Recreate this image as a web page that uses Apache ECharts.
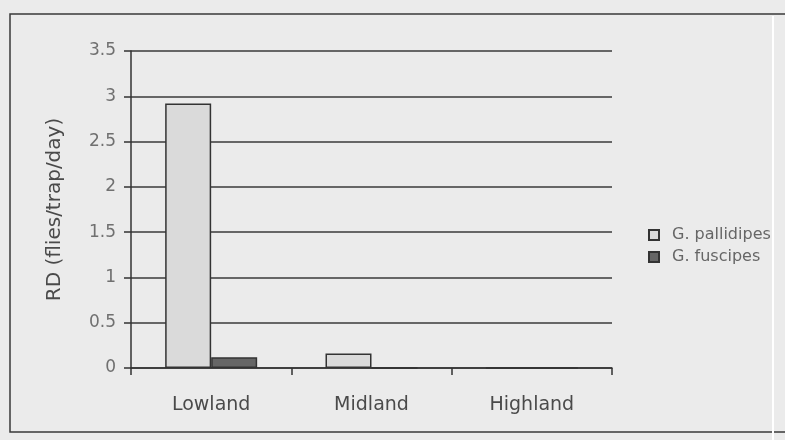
<!DOCTYPE html>
<html>
<head>
<meta charset="utf-8">
<script src="https://cdn.jsdelivr.net/npm/echarts@6/dist/echarts.min.js"></script>
<style>
  html, body { margin: 0; padding: 0; background: #ebebeb; }
  #chart { width: 785px; height: 440px; }
</style>
</head>
<body>
<div id="chart"></div>
<script>
// Relative density of tsetse flies by altitude zone
const zones = ['Lowland', 'Midland', 'Highland'];
const pallidipes = [2.92, 0.16, 0];
const fuscipes = [0.12, 0, 0];
const yTicks = { min: 0, max: 3.5, step: 0.5 };

const chart = echarts.init(document.getElementById('chart'));

chart.setOption({
  backgroundColor: '#ebebeb',
  animation: false,
  textStyle: { fontFamily: 'DejaVu Sans, sans-serif' },
  graphic: [
    {
      type: 'rect',
      shape: { x: 10, y: 14, width: 800, height: 418 },
      style: { fill: 'none', stroke: '#3a3a3a', lineWidth: 1.5 },
      silent: true
    },
    {
      type: 'line',
      shape: { x1: 773, y1: 16, x2: 773, y2: 440 },
      style: { stroke: '#ffffff', lineWidth: 2 },
      silent: true
    }
  ],
  grid: { left: 131, right: 173, top: 51, bottom: 72, containLabel: false },
  legend: {
    orient: 'vertical',
    left: 643,
    top: 222,
    itemWidth: 10,
    itemHeight: 10,
    itemGap: 6,
    icon: 'rect',
    textStyle: { color: '#666', fontSize: 16, padding: [0, 0, 0, 8] },
    data: ['G. pallidipes', 'G. fuscipes']
  },
  xAxis: {
    type: 'category',
    data: zones,
    axisLine: { lineStyle: { color: '#333', width: 1.5 } },
    axisTick: { show: true, length: 7, lineStyle: { color: '#333', width: 1.5 } },
    axisLabel: { color: '#4a4a4a', fontSize: 19, margin: 28 },
    splitLine: { show: false }
  },
  yAxis: {
    type: 'value',
    min: yTicks.min,
    max: yTicks.max,
    interval: yTicks.step,
    name: 'RD (flies/trap/day)',
    nameLocation: 'middle',
    nameGap: 66,
    nameTextStyle: { color: '#4a4a4a', fontSize: 20 },
    axisLine: { show: true, lineStyle: { color: '#333', width: 1.5 } },
    axisTick: { show: true, length: 7, lineStyle: { color: '#333', width: 1.5 } },
    axisLabel: { color: '#707070', fontSize: 17, margin: 15 },
    splitLine: { show: true, lineStyle: { color: '#3a3a3a', width: 1.5 } }
  },
  series: [
    {
      name: 'G. pallidipes',
      type: 'bar',
      data: pallidipes,
      barWidth: 46,
      barGap: '0%',
      itemStyle: { color: '#dadada', borderColor: '#333', borderWidth: 1.5 }
    },
    {
      name: 'G. fuscipes',
      type: 'bar',
      data: fuscipes,
      barWidth: 46,
      barGap: '0%',
      itemStyle: { color: '#666666', borderColor: '#333', borderWidth: 1.5 }
    }
  ]
});
</script>
</body>
</html>
